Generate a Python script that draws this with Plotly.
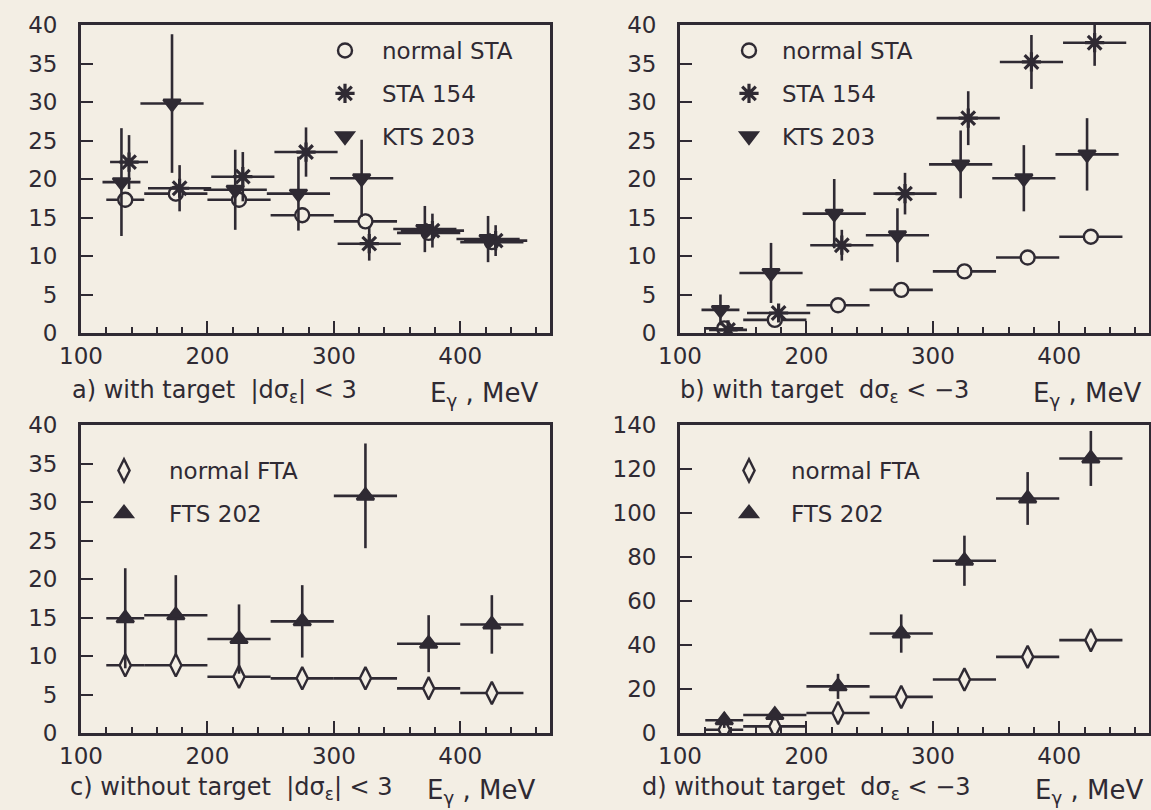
import plotly.graph_objects as go

# ---------------- data ----------------
E_centers = [135, 175, 225, 275, 325, 375, 425]
E_half = [15, 25, 25, 25, 25, 25, 25]
E_kts = [132, 172, 222, 272, 322, 372, 422]
E_sta = [138, 178, 228, 278, 328, 378, 428]

# a) with target |dσ_ε| < 3
a_normal = [17.3, 18.1, 17.3, 15.3, 14.5, 13.0, 11.8]
a_normal_err = [1.0, 1.0, 1.0, 1.0, 1.0, 0.8, 0.8]
a_sta154 = [22.2, 18.8, 20.3, 23.5, 11.6, 13.3, 12.0]
a_sta154_err = [3.5, 3.0, 3.2, 3.2, 2.2, 2.2, 2.0]
a_kts203 = [19.6, 29.8, 18.6, 18.1, 20.1, 13.5, 12.2]
a_kts203_err = [7.0, 9.0, 5.2, 4.8, 5.0, 3.0, 3.0]

# b) with target dσ_ε < -3
b_normal = [0.6, 1.7, 3.6, 5.6, 8.0, 9.8, 12.5]
b_normal_err = [0.4, 0.4, 0.4, 0.5, 0.5, 0.5, 0.5]
b_sta154 = [0.4, 2.6, 11.4, 18.1, 27.9, 35.2, 37.7]
b_sta154_err = [0.5, 1.0, 2.0, 2.7, 3.5, 3.5, 3.0]
b_kts203 = [3.0, 7.8, 15.5, 12.7, 21.9, 20.1, 23.2]
b_kts203_err = [2.0, 3.9, 4.5, 3.5, 4.4, 4.3, 4.7]

# c) without target |dσ_ε| < 3
c_normal = [8.8, 8.8, 7.3, 7.1, 7.1, 5.8, 5.2]
c_normal_err = [0.5, 0.5, 0.5, 0.5, 0.5, 0.4, 0.4]
c_fts202 = [14.9, 15.3, 12.2, 14.5, 30.8, 11.6, 14.1]
c_fts202_err = [6.5, 5.2, 4.5, 4.7, 6.8, 3.7, 3.8]

# d) without target dσ_ε < -3
d_normal = [1.5, 3.0, 9.1, 16.4, 24.3, 34.6, 42.2]
d_normal_err = [1.0, 1.0, 1.0, 1.5, 1.5, 2.0, 2.0]
d_fts202 = [5.8, 8.2, 21.2, 45.2, 78.3, 106.6, 124.8]
d_fts202_err = [3.5, 2.5, 5.7, 8.7, 11.4, 12.0, 12.5]

x_ticks = [100, 200, 300, 400]
y_ticks_small = [0, 5, 10, 15, 20, 25, 30, 35, 40]
y_ticks_big = [0, 20, 40, 60, 80, 100, 120, 140]

captions = [
    "a) with target  |dσ<sub>ε</sub>| < 3",
    "b) with target  dσ<sub>ε</sub> < −3",
    "c) without target  |dσ<sub>ε</sub>| < 3",
    "d) without target  dσ<sub>ε</sub> < −3",
]
axis_title = "E<sub>γ</sub> , MeV"

# ---------------- style ----------------
INK = "#2f2a33"
PAPER = "#f3eee4"
FONT = "DejaVu Sans"
W, H = 1151, 810

fig = go.Figure()

def add_series(x, y, yerr, name, symbol, size, axis_idx, legend, group, filled, lw=2.4):
    xa = "x" if axis_idx == 1 else f"x{axis_idx}"
    ya = "y" if axis_idx == 1 else f"y{axis_idx}"
    fig.add_trace(go.Scatter(
        x=x, y=y, mode="markers", name=name,
        xaxis=xa, yaxis=ya, legend=legend, legendgroup=group,
        marker=dict(symbol=symbol, size=size,
                    color=INK if filled else PAPER,
                    line=dict(color=INK, width=lw)),
        error_x=dict(type="data", array=E_half, width=0, thickness=2.6, color=INK),
        error_y=dict(type="data", array=yerr, width=0, thickness=2.6, color=INK),
    ))

# panel a
add_series(E_centers, a_normal, a_normal_err, "normal STA", "circle", 14, 1, "legend", "a1", False)
add_series(E_sta, a_sta154, a_sta154_err, "STA 154", "asterisk-open", 16, 1, "legend", "a2", True, 3.2)
add_series(E_kts, a_kts203, a_kts203_err, "KTS 203", "triangle-down", 15, 1, "legend", "a3", True)
# panel b
add_series(E_centers, b_normal, b_normal_err, "normal STA", "circle", 14, 2, "legend2", "b1", False)
add_series(E_sta, b_sta154, b_sta154_err, "STA 154", "asterisk-open", 16, 2, "legend2", "b2", True, 3.2)
add_series(E_kts, b_kts203, b_kts203_err, "KTS 203", "triangle-down", 15, 2, "legend2", "b3", True)
# panel c
add_series(E_centers, c_normal, c_normal_err, "normal FTA", "diamond-tall", 16, 3, "legend3", "c1", False)
add_series(E_centers, c_fts202, c_fts202_err, "FTS 202", "triangle-up", 15, 3, "legend3", "c2", True)
# panel d
add_series(E_centers, d_normal, d_normal_err, "normal FTA", "diamond-tall", 16, 4, "legend4", "d1", False)
add_series(E_centers, d_fts202, d_fts202_err, "FTS 202", "triangle-up", 15, 4, "legend4", "d2", True)

def px_x(p):
    return p / W

def px_y(p):
    return 1 - p / H

panels = {
    1: dict(x=(81, 550), y=(25, 333), yr=(0, 40), yt=y_ticks_small),
    2: dict(x=(680, 1149), y=(25, 333), yr=(0, 40), yt=y_ticks_small),
    3: dict(x=(81, 550), y=(425, 733), yr=(0, 40), yt=y_ticks_small),
    4: dict(x=(680, 1149), y=(425, 733), yr=(0, 140), yt=y_ticks_big),
}

tickfont = dict(family=FONT, size=23, color=INK)
layout = {}
for i, p in panels.items():
    xk = "xaxis" if i == 1 else f"xaxis{i}"
    yk = "yaxis" if i == 1 else f"yaxis{i}"
    ya = "y" if i == 1 else f"y{i}"
    xa = "x" if i == 1 else f"x{i}"
    layout[xk] = dict(
        domain=[px_x(p["x"][0]), px_x(p["x"][1])], anchor=ya, automargin=False,
        range=[100, 471], tickvals=x_ticks, ticks="inside", ticklen=12,
        tickwidth=2.4, tickcolor=INK, showline=True, linecolor=INK, linewidth=2.8,
        mirror=True, showgrid=False, zeroline=False, tickfont=tickfont,
        ticklabelstandoff=0,
        minor=dict(dtick=20, tick0=100, ticks="inside", ticklen=6, tickwidth=2.2, tickcolor=INK),
    )
    layout[yk] = dict(
        domain=[px_y(p["y"][1]), px_y(p["y"][0])], anchor=xa, automargin=False,
        range=list(p["yr"]), tickvals=p["yt"], ticks="inside", ticklen=12,
        tickwidth=2.4, tickcolor=INK, showline=True, linecolor=INK, linewidth=2.8,
        mirror=True, showgrid=False, zeroline=False, tickfont=tickfont,
        ticklabelstandoff=16,
    )

legend_font = dict(family=FONT, size=23, color=INK)
def leg(xp, yp, iw):
    return dict(x=px_x(xp), y=px_y(yp), xanchor="left", yanchor="top",
                bgcolor="rgba(0,0,0,0)", font=legend_font,
                traceorder="grouped", tracegroupgap=10, itemwidth=iw)

annotations = []
cap_pos = [(70, 391, 428), (678, 391, 1031), (68, 788, 425), (640, 788, 1033)]
for cap, (cx, cy, ex) in zip(captions, cap_pos):
    annotations.append(dict(text=cap, x=px_x(cx), y=px_y(cy), xref="paper", yref="paper",
                            xanchor="left", yanchor="middle", showarrow=False,
                            font=dict(family=FONT, size=24, color=INK)))
    annotations.append(dict(text=axis_title, x=px_x(ex), y=px_y(cy + 3), xref="paper", yref="paper",
                            xanchor="left", yanchor="middle", showarrow=False,
                            font=dict(family=FONT, size=26, color=INK)))

fig.update_layout(
    template="none",
    width=W, height=H,
    margin=dict(l=0, r=0, t=0, b=0, pad=0),
    paper_bgcolor=PAPER, plot_bgcolor=PAPER,
    showlegend=True,
    legend=leg(308, 29, 64),
    legend2=leg(716, 29, 56),
    legend3=leg(79, 449, 80),
    legend4=leg(707, 449, 74),
    annotations=annotations,
    font=dict(family=FONT, color=INK),
    **layout,
)

fig.write_html("out.html", config={"displayModeBar": False},
               post_script="document.body.style.margin='0';document.body.style.background='%s';" % PAPER)
